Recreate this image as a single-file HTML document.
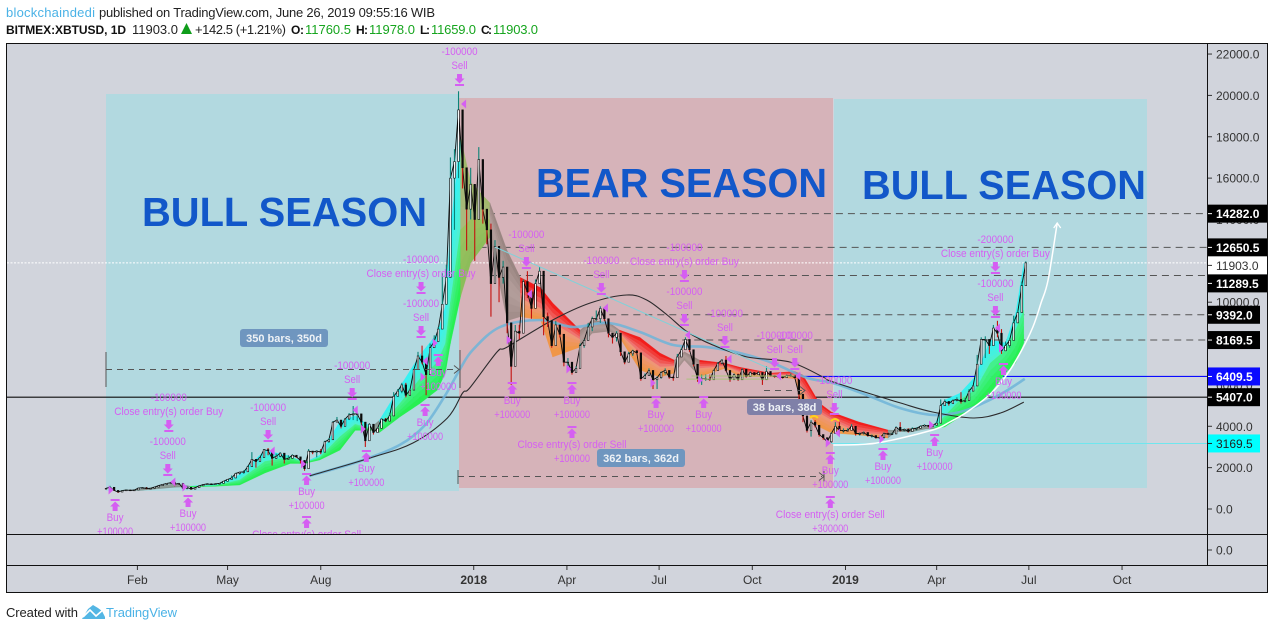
<!DOCTYPE html>
<html lang="en">
<head>
<meta charset="utf-8">
<title>BITMEX:XBTUSD 1D chart</title>
<style>
html,body{margin:0;padding:0;background:#fff;width:1274px;height:630px;overflow:hidden}
svg{display:block;font-family:"Liberation Sans",sans-serif}
</style>
</head>
<body>
<svg id="chart" xmlns="http://www.w3.org/2000/svg" width="1274" height="630" viewBox="0 0 1274 630">
  <defs>
    <clipPath id="pane-clip"><rect x="7" y="44" width="1200" height="490"/></clipPath>
  </defs>
  <rect x="0" y="0" width="1274" height="630" fill="#ffffff"/>

  <g font-size="13">
    <text x="6" y="17" fill="#4ab2e6" textLength="89">blockchaindedi</text>
    <text x="99" y="17" fill="#222" textLength="336">published on TradingView.com, June 26, 2019 09:55:16 WIB</text>
    <text x="6" y="34" fill="#111" font-size="12" font-weight="bold" textLength="120">BITMEX:XBTUSD, 1D</text>
    <text x="132" y="34" fill="#222" textLength="46">11903.0</text>
    <polygon points="181,34 192,34 186.5,23" fill="#0f9d1a"/>
    <text x="195" y="34" fill="#222" textLength="91">+142.5 (+1.21%)</text>
    <text x="291" y="34" fill="#111" font-size="12" font-weight="bold" textLength="13">O:</text>
    <text x="305" y="34" fill="#16a51e" textLength="46">11760.5</text>
    <text x="356" y="34" fill="#111" font-size="12" font-weight="bold" textLength="12">H:</text>
    <text x="369" y="34" fill="#16a51e" textLength="46">11978.0</text>
    <text x="420" y="34" fill="#111" font-size="12" font-weight="bold" textLength="10">L:</text>
    <text x="431" y="34" fill="#16a51e" textLength="45">11659.0</text>
    <text x="481" y="34" fill="#111" font-size="12" font-weight="bold" textLength="11">C:</text>
    <text x="493" y="34" fill="#16a51e" textLength="45">11903.0</text>
  </g>

  <rect x="6.5" y="43.5" width="1261" height="549" fill="#d1d4dc"/>

  <g>
    <rect x="106" y="94" width="353" height="397" fill="#b2d9e0"/>
    <rect x="459" y="98" width="374" height="390" fill="#d6b3b9"/>
    <rect x="834" y="99" width="313" height="389" fill="#b2d9e0"/>
    <text x="142" y="226" font-size="41" font-weight="bold" fill="#1257c9" textLength="285" lengthAdjust="spacingAndGlyphs">BULL SEASON</text>
    <text x="536" y="197" font-size="41" font-weight="bold" fill="#1257c9" textLength="291" lengthAdjust="spacingAndGlyphs">BEAR SEASON</text>
    <text x="862" y="199" font-size="41" font-weight="bold" fill="#1257c9" textLength="284" lengthAdjust="spacingAndGlyphs">BULL SEASON</text>
  </g>

  <g id="levels" clip-path="url(#pane-clip)"></g>
  <g id="ribbon" clip-path="url(#pane-clip)"></g>
  <g id="averages" clip-path="url(#pane-clip)"></g>
  <g id="candles" clip-path="url(#pane-clip)"></g>
  <g id="drawings" clip-path="url(#pane-clip)"></g>
  <g id="signals" clip-path="url(#pane-clip)"></g>

  <g id="price-axis"></g>
  <g id="time-axis"></g>

  <g fill="none" stroke="#111" stroke-width="1" shape-rendering="crispEdges">
    <rect x="6.5" y="43.5" width="1261" height="549"/>
    <line x1="1207.5" y1="43" x2="1207.5" y2="565"/>
    <line x1="6" y1="534.5" x2="1268" y2="534.5"/>
    <line x1="6" y1="565.5" x2="1268" y2="565.5"/>
  </g>

  <g>
    <text x="6" y="617" font-size="13" fill="#222" textLength="72">Created with</text>
    <g>
      <polygon points="82,619 88,609 93,605 98,608 102,611 105,617 105,619" fill="#53b6e4"/>
      <polyline points="83,617 90,610 96,616 104,609" fill="none" stroke="#ffffff" stroke-width="1.6"/>
    </g>
    <text x="106" y="617" font-size="13" fill="#4ab2e6" textLength="71">TradingView</text>
  </g>
</svg>

<script>
/* ---------- price candles: one sample every 4 days from 1 Jan 2017 ---------- */
const candleStepDays = 4;
const candleClose = [1000,1050,900,820,890,920,900,920,1010,1030,990,1000,1060,1130,1190,1240,1270,1200,1240,1000,1050,960,1030,1120,1180,1220,1180,1220,1240,1340,1430,1500,1720,1780,1800,2050,2400,2300,2490,2870,2820,2450,2550,2700,2400,2450,2600,2520,2350,1950,2800,2750,2800,2750,3250,3350,4200,4300,4000,4350,4550,4600,4600,4200,3300,4100,3700,3900,4350,4250,4500,5450,5700,6000,5500,5750,6750,7400,7100,6500,7800,8100,8700,9900,11200,16000,16800,19300,16500,14500,15700,14000,16900,14500,13500,10900,12700,11200,11700,9000,6900,8600,8500,11000,10500,9700,10900,11500,9300,9100,7900,8900,8450,7100,7100,6600,6800,7900,8150,8800,9200,9200,9700,9200,8500,8300,8500,7600,7100,7500,7650,7550,6300,6450,6700,6250,6350,6600,6700,6380,6350,7350,7700,8200,7700,7000,6300,6300,6300,6250,6700,7050,7200,6700,6250,6500,6250,6750,6400,6600,6500,6600,6250,6650,6450,6400,6400,6350,6450,6450,6350,5550,4500,3800,4200,4050,3600,3450,3250,3650,4000,3800,3800,3800,4000,3650,3650,3700,3550,3550,3450,3450,3650,3620,3630,3950,3800,3850,3750,3880,3900,4000,4050,4000,4050,4150,5000,5200,5100,5250,5300,5200,5250,5700,5950,7000,8200,8200,7900,8750,8500,7650,7900,8150,9000,9500,10800,11903];
const candleHigh = [1010,1120,960,850,910,940,930,930,1020,1050,1060,1020,1070,1140,1200,1250,1290,1330,1260,1190,1120,1020,1050,1150,1200,1240,1230,1240,1250,1350,1440,1620,1750,1800,1870,2100,2750,2300,2500,2900,2950,2800,2680,2750,2500,2600,2650,2560,2380,2200,2900,2770,2840,2900,3300,3420,4250,4450,4300,4400,4640,4980,4650,4350,3900,4150,3950,3950,4370,4400,4650,5650,5800,6100,6100,5800,6800,7600,7900,6800,8000,8400,8800,11400,11800,17000,17400,20200,19000,15800,16500,15000,17500,16800,14500,13800,13000,11800,12000,10200,8400,8900,8900,11100,11500,10000,11100,11700,9500,9500,8800,9100,8700,8000,7300,6900,6900,8000,8200,9000,9300,9600,9800,9400,8700,8500,8600,7800,7400,7600,7700,7700,6700,6550,6800,6300,6400,6650,6800,6450,6400,7500,7800,8300,8200,7500,6800,6500,6500,6500,6750,7100,7250,7400,6450,6550,6550,6800,6650,6650,6600,6650,6600,6900,6500,6450,6450,6400,6500,6550,6400,5800,5200,4500,4300,4300,3900,3550,3400,3700,4200,4200,3900,3900,4100,3700,3700,3750,3600,3600,3500,3500,3700,3700,3680,4000,4200,3900,3900,3950,3950,4050,4100,4050,4100,4200,5300,5300,5200,5300,5400,5650,5350,5800,6000,7450,8300,8350,8000,8900,9100,8700,8100,8250,9350,9600,11000,11978];
const candleLow = [960,900,880,780,820,880,880,900,960,1000,960,980,1030,1080,1130,1180,1230,1100,1200,960,950,930,1000,1080,1150,1190,1170,1190,1210,1270,1340,1470,1590,1660,1700,1900,2200,2000,2350,2580,2600,2100,2430,2500,2200,2400,2500,2480,2200,1850,2250,2650,2500,2650,2800,3200,3800,4250,3900,4150,4300,4300,4250,4100,3000,3600,3600,3700,4150,4200,4300,4800,5500,5600,5400,5600,6400,7200,7000,5500,7400,7900,8100,9000,10500,13500,13500,16000,15500,12500,14000,12000,15000,13800,12800,9300,11000,10000,10900,8500,6000,7600,8200,9900,10200,9200,10300,11300,8400,8800,7800,8700,8300,6900,6800,6500,6700,7700,7800,8700,8600,9100,9000,9100,8300,8000,8100,7400,7000,7300,7400,7500,6200,6400,6600,5800,5800,6300,6500,6300,6200,7200,7400,7800,7600,6900,6150,6000,6200,6200,6400,6900,7000,6650,6150,6300,6200,6500,6350,6500,6450,6550,6000,6250,6400,6350,6350,6300,6350,6400,6300,5300,4200,3700,3500,3950,3500,3350,3150,3200,3800,3600,3700,3750,3950,3550,3550,3600,3500,3450,3400,3400,3400,3580,3600,3800,3750,3750,3700,3850,3800,3950,4000,3950,4000,4050,4900,5100,5000,5150,5200,5100,5150,5400,5750,6200,7700,7300,7500,8600,8300,7500,7800,7800,8800,9200,10500,10800];

/* ---------- EMA ribbon envelope ---------- */
const ribbonDays = [24,34,68,83,108,132,157,182,196,211,231,246,262,270,290,310,327,335,340,350,360,379,396,409,429,441,468,480,497,507,527,547,561,571,586,611,626,656,680,688,704,716,743,772,780,794,809,818,828,843,858,873,888,898,906];
const ribbonTop = [900,950,1230,1100,1180,1650,2850,2550,2250,2600,4250,4500,3950,4300,5900,7450,8500,9800,13500,18000,15800,14800,12500,11200,10700,9960,8650,9140,9000,8650,8300,7540,7200,7600,7200,7050,6850,6570,6650,6480,5130,4690,4210,3820,3800,3900,3970,4050,5270,5600,6400,8170,8030,9480,11900];
const ribbonMid = [900,930,1150,1090,1130,1400,2300,2500,2230,2500,3500,4100,3880,4000,5100,6300,7100,8000,10000,13500,14000,14000,10800,10200,9700,9000,8200,8800,8800,8500,7540,6870,6900,7400,6800,6900,6600,6480,6450,5700,4640,4300,3680,3600,3775,3800,3920,3950,4500,5270,5750,7060,7690,8650,9620];
const ribbonBottom = [900,900,1050,1080,1100,1160,1740,2200,2200,2370,2850,3800,3800,3700,4450,5100,5750,6570,8000,10250,11900,13150,9100,9300,9150,7350,7830,8500,8600,8300,6720,6380,6570,7200,6400,6800,6400,6400,6300,4930,3970,3680,3580,3430,3750,3720,3870,3880,3970,4450,4930,5600,6570,7060,8030];
const ribbonPhase = ["flat","flat","flat","bull","bull","bull","bull","bull","bull","bull","bull","bull","flat","bull","bull","bull","bull","bull","bull","olive","olive","brown","brown","bear","bear","bear","brown","brown","brown","bear","bear","bear","brown","brown","bear","bear","bear","bear","bear","bear","bear","bear","bear","flat","flat","flat","flat","bull","bull","bull","bull","bull","bull","bull"];

/* ---------- moving averages ---------- */
const fastMaDays = [201,251,290,315,335,349,362,389,428,461,495,527,560,593,626,658,692,718,751,784,816,843,868,887,907];
const fastMaValues = [1600,2320,3100,4060,5510,6720,7690,8800,9140,8800,9000,8560,7930,7830,7540,7060,6340,6090,5510,4880,4550,4690,5170,5660,6290];
const slowMaDays = [201,261,303,337,352,359,386,396,441,478,514,534,554,574,599,633,675,708,718,784,816,856,883,906];
const slowMaValues = [1600,2470,3190,4400,5610,5850,7590,7830,9140,9960,10350,10100,9380,8560,7930,7350,7110,6380,6140,5130,4690,4400,4640,5170];

/* ---------- price levels ---------- */
const dashedLevelPrices = [14282,12650.5,11289.5,9392,8169.5];
const dashedLevelStartDays = [377,357,379,485,557];
const blueLevelPrice = 6409.5;
const blueLevelStartDay = 683;
const blackLevelPrice = 5407;
const cyanLevelPrice = 3169.5;
const cyanLevelStartDay = 716;
const lastPriceLevel = 11903;

/* ---------- drawings ---------- */
const trendDays = [384,658];
const trendPrices = [12670,6720];
const arrowCurveDays = [718,744,767,816,833,850,873,889,903,915,923,930,939];
const arrowCurvePrices = [3095,3120,3240,3820,4207,4690,5560,6480,7590,8800,9960,11075,13830];
const olivePrices = [6430,6280];
const oliveStartDays = [578,573];
const oliveEndDays = [680,655];

/* ---------- strategy signals ---------- */
const signalDays = [9,81,198,257,315,328,401,460,543,590,715,767,818,886, 198,460,715, 61,160,243,311,349,415,489,571,611,660,680,719,878, 62,311,571,878];
const signalPrices = [484,677,1741,2853,5078,7496,6142,6142,5465,5465,2757,2950,3627,7061, -338,4014,629, 1596,3240,5271,8270,20456,11606,10349,8850,7786,6722,6722,4546,9237, 3724,10397,10978,11365];
const signalKinds = ["buy","buy","buy","buy","buy","buy","buy","buy","buy","buy","buy","buy","buy","buy","closeSell","closeSell","closeSell","sell","sell","sell","sell","sell","sell","sell","sell","sell","sell","sell","sell","sell","closeBuy","closeBuy","closeBuy","closeBuy"];
const signalAmounts = ["+100000","+100000","+100000","+100000","+100000","+100000","+100000","+100000","+100000","+100000","+100000","+100000","+100000","+100000","+100000","+100000","+300000","-100000","-100000","-100000","-100000","-100000","-100000","-100000","-100000","-100000","-100000","-100000","-100000","-100000","-100000","-100000","-100000","-200000"];
const entryMarkerDays = [5,78,195,254,313,325,398,457,540,587,713,766,815,884];
const entryMarkerPrices = [919,1064,2176,3869,6384,8028,8173,6770,6093,6238,3192,3385,4062,7786];
const exitMarkerDays = [66,164,246,315,353,418,493,574,615,664,683,722,880];
const exitMarkerPrices = [1306,2805,4788,7157,19586,10397,9720,8415,7254,6432,6432,3675,8753];

/* ---------- axes ---------- */
const priceTicks = [22000,20000,18000,16000,14000,12000,10000,8000,6000,4000,2000,0];
const priceTickLabels = ["22000.0","20000.0","18000.0","16000.0","14000.0","12000.0","10000.0","8000.0","6000.0","4000.0","2000.0","0.0"];
const lowerPaneTickLabel = "0.0";
const timeTickDays = [31,120,212,363,455,546,638,730,820,911,1003];
const timeTickLabels = ["Feb","May","Aug","2018","Apr","Jul","Oct","2019","Apr","Jul","Oct"];
const priceTagValues = [14282,12650.5,11903,11289.5,9392,8169.5,6409.5,5407,3169.5];
const priceTagLabels = ["14282.0","12650.5","11903.0","11289.5","9392.0","8169.5","6409.5","5407.0","3169.5"];
const priceTagStyles = ["black","black","white","black","blackShort","blackShort","blue","blackShort","cyan"];

function xScale(day){ return 106 + 1.013 * day; }
function yScale(price){ return 509 - 0.02068 * price; }

const NS = "http://www.w3.org/2000/svg";
function mk(parent, tag, attrs, text){
  const e = document.createElementNS(NS, tag);
  for (const k in attrs) e.setAttribute(k, attrs[k]);
  if (text !== undefined) e.textContent = text;
  parent.appendChild(e);
  return e;
}
function pointsOf(days, values){
  return days.map((d,i)=> xScale(d).toFixed(1)+","+yScale(values[i]).toFixed(1)).join(" ");
}
/* Catmull-Rom smoothing so curved indicators are not angular */
function smoothPath(days, values){
  const p = days.map((d,i)=>[xScale(d),yScale(values[i])]);
  let s = "M"+p[0][0].toFixed(1)+" "+p[0][1].toFixed(1);
  for (let i=0;i<p.length-1;i++){
    const a=p[Math.max(0,i-1)], b=p[i], c=p[i+1], d=p[Math.min(p.length-1,i+2)];
    const c1=[b[0]+(c[0]-a[0])/6,b[1]+(c[1]-a[1])/6];
    const c2=[c[0]-(d[0]-b[0])/6,c[1]-(d[1]-b[1])/6];
    s+="C"+c1[0].toFixed(1)+" "+c1[1].toFixed(1)+" "+c2[0].toFixed(1)+" "+c2[1].toFixed(1)+" "+c[0].toFixed(1)+" "+c[1].toFixed(1);
  }
  return s;
}

/* levels */
const levelsG = document.getElementById("levels");
dashedLevelPrices.forEach((p,i)=>{
  const y = yScale(p);
  const el = mk(levelsG,"line",{x1:xScale(dashedLevelStartDays[i]),y1:y,x2:1207,y2:y,stroke:"#555","stroke-width":1,"stroke-dasharray":"7 5"});
  
  
});
{
  let el = mk(levelsG,"line",{x1:7,y1:yScale(lastPriceLevel),x2:1207,y2:yScale(lastPriceLevel),stroke:"#fff","stroke-width":1,"stroke-dasharray":"2 1.5"});
  
  
  el = mk(levelsG,"line",{x1:xScale(blueLevelStartDay),y1:yScale(blueLevelPrice),x2:1207,y2:yScale(blueLevelPrice),stroke:"#0a0aff","stroke-width":1.2});
  
  
  el = mk(levelsG,"line",{x1:7,y1:yScale(blackLevelPrice),x2:1207,y2:yScale(blackLevelPrice),stroke:"#0c0c0c","stroke-width":1.2});
  
  
  el = mk(levelsG,"line",{x1:xScale(cyanLevelStartDay),y1:yScale(cyanLevelPrice),x2:1207,y2:yScale(cyanLevelPrice),stroke:"#6fe6ee","stroke-width":1});
  
  
}

/* ribbon: each half of the envelope is shaded with several thin sub-bands */
const ribbonG = document.getElementById("ribbon");
const shadeUpperFrom = {bull:[48,242,250],bear:[242,16,14],flat:[127,143,138],olive:[160,184,104],brown:[150,130,126]};
const shadeUpperTo = {bull:[80,240,205],bear:[238,130,126],flat:[147,160,154],olive:[170,184,128],brown:[181,159,156]};
const shadeLowerFrom = {bull:[72,240,150],bear:[238,150,125],flat:[147,160,154],olive:[156,192,96],brown:[181,159,156]};
const shadeLowerTo = {bull:[34,240,72],bear:[240,150,64],flat:[127,143,138],olive:[138,188,88],brown:[160,140,136]};
const SUB_BANDS = 4;
function mixColor(a,b,t){
  return "rgb("+a.map((v,i)=>Math.round(v+(b[i]-v)*t)).join(",")+")";
}
for (let i=0;i<ribbonPhase.length;i++){
  const x0=xScale(ribbonDays[i]), x1=xScale(ribbonDays[i+1]);
  const ph=ribbonPhase[i];
  const halves=[
    [ribbonTop,ribbonMid,shadeUpperFrom[ph],shadeUpperTo[ph],'ribbon-upper-band'],
    [ribbonMid,ribbonBottom,shadeLowerFrom[ph],shadeLowerTo[ph],'ribbon-lower-band']
  ];
  halves.forEach(h=>{
    const ya0=yScale(h[0][i]), ya1=yScale(h[0][i+1]), yb0=yScale(h[1][i]), yb1=yScale(h[1][i+1]);
    for (let k=0;k<SUB_BANDS;k++){
      const t0=k/SUB_BANDS, t1=(k+1)/SUB_BANDS;
      const pts=[x0,ya0+(yb0-ya0)*t0,x1,ya1+(yb1-ya1)*t0,x1,ya1+(yb1-ya1)*t1,x0,ya0+(yb0-ya0)*t1].map(n=>n.toFixed(1));
      const col=mixColor(h[2],h[3],(k+0.5)/SUB_BANDS);
      const band = mk(ribbonG,"polygon",{points:pts.join(" "),fill:col,stroke:col,"stroke-width":0.3});
      
      
    }
  });
}

/* moving averages */
const avgG = document.getElementById("averages");
{
  const fast = mk(avgG,"path",{d:smoothPath(fastMaDays,fastMaValues),fill:"none",stroke:"#6eb4d8","stroke-width":2.6,"stroke-opacity":0.85,"stroke-linejoin":"round"});
  
  
  const slow = mk(avgG,"path",{d:smoothPath(slowMaDays,slowMaValues),fill:"none",stroke:"#2c2a2c","stroke-width":1.1,"stroke-linejoin":"round"});
  
  
}

/* candles */
const candleG = document.getElementById("candles");
{
  const closeDays = candleClose.map((_,i)=>i*candleStepDays);
  const path = mk(candleG,"polyline",{points:pointsOf(closeDays,candleClose),fill:"none",stroke:"#0a0a0a","stroke-width":0.9});
  
  
}
candleClose.forEach((c,i)=>{
  const o = i>0 ? candleClose[i-1] : c;
  const x = xScale(i*candleStepDays);
  const up = c>=o;
  const wick = mk(candleG,"line",{x1:x,x2:x,y1:yScale(candleHigh[i]),y2:yScale(candleLow[i]),stroke:up?"#0b8478":"#c4120f","stroke-width":1.1});
  
  
  const yTop = yScale(Math.max(o,c));
  const yBot = yScale(Math.min(o,c));
  const body = mk(candleG,"rect",{x:x-0.8,y:yTop,width:1.6,height:Math.max(0.8,yBot-yTop),fill:up?"#ffffff":"#0a0a0a",stroke:"#0a0a0a","stroke-width":0.6});
  
  
});

/* drawings */
const drawG = document.getElementById("drawings");
{
  let el = mk(drawG,"polyline",{points:pointsOf(trendDays,trendPrices),fill:"none",stroke:"#7ed2da","stroke-width":1});
  
  
  oliveStartDays.forEach((d,i)=>{
    const o = mk(drawG,"line",{x1:xScale(d),x2:xScale(oliveEndDays[i]),y1:yScale(olivePrices[i]),y2:yScale(olivePrices[i]),stroke:"#a9c37a","stroke-width":1.2,"stroke-opacity":0.8});
    
    
  });
  el = mk(drawG,"path",{d:smoothPath(arrowCurveDays,arrowCurvePrices),fill:"none",stroke:"#ffffff","stroke-width":1.5,"stroke-linejoin":"round"});
  
  
  const lastIdx = arrowCurveDays.length-1;
  const ax = xScale(arrowCurveDays[lastIdx]), ay = yScale(arrowCurvePrices[lastIdx]);
  el = mk(drawG,"polyline",{points:(ax-3.5)+","+(ay+5)+" "+ax+","+ay+" "+(ax+3.5)+","+(ay+5),fill:"none",stroke:"#ffffff","stroke-width":1.3});
  
  
  ["M810 418q4-4 8 0","M831 421q4-4 8 0"].forEach(d=>{
    const a = mk(drawG,"path",{d:d,fill:"none",stroke:"#ffd21a","stroke-width":2});
    
    
  });
  /* measure tools */
  const dash = {stroke:"#555","stroke-width":1,"stroke-dasharray":"6 5"};
  const solid = {stroke:"#555","stroke-width":1};
  const segs = [
    ["measure-350-line",106,369.5,456,369.5,dash],["measure-350-start",106,352,106,387,solid],["measure-350-end",460,350,460,388,solid],
    ["measure-362-line",458,476.5,822,476.5,dash],["measure-362-start",458,470,458,484,solid],["measure-362-end",824,471,824,482,solid],
    ["measure-38-line",764,390.5,802,390.5,dash]
  ];
  segs.forEach(s=>{
    const l = mk(drawG,"line",Object.assign({x1:s[1],y1:s[2],x2:s[3],y2:s[4]},s[5]));
    
    
  });
  [[459,369.5],[824,476.5],[805,390.5]].forEach(p=>{
    const h = mk(drawG,"polyline",{points:(p[0]-5)+","+(p[1]-4)+" "+p[0]+","+p[1]+" "+(p[0]-5)+","+(p[1]+4),fill:"none",stroke:"#555","stroke-width":1});
    
    
  });
  [["350 bars, 350d",240,329,88,18,"#6f96bf"],["362 bars, 362d",597,449,88,18,"#6f96bf"],["38 bars, 38d",747,399,75,16,"#7f80a8"]].forEach(b=>{
    const r = mk(drawG,"rect",{x:b[1],y:b[2],width:b[3],height:b[4],rx:3,fill:b[5]});
    
    
    const t = mk(drawG,"text",{x:b[1]+b[3]/2,y:b[2]+b[4]/2+4,"text-anchor":"middle","font-size":11,"font-weight":"bold",fill:"#eef2f6"},b[0]);
    
    
  });
}

/* signals */
const sigG = document.getElementById("signals");
const MAGENTA = "#d55ff2";
const labelWidths = {"Buy":17,"Sell":16,"Close entry(s) order Buy":109,"Close entry(s) order Sell":109};
function sigText(x,y,str){
  const w = labelWidths[str] || 36;
  const t = mk(sigG,"text",{x:x,y:y+4,"text-anchor":"middle","font-size":11,fill:MAGENTA,textLength:w,lengthAdjust:"spacingAndGlyphs"},str);
  
  
}
function upArrow(x,y){
  return "M"+(x-4.5)+" "+y+"h9v2h-9zM"+x+" "+(y+2.5)+"l5 5h-2.5v4.5h-5v-4.5h-2.5z";
}
function downArrow(x,yb){
  return "M"+(x-4.5)+" "+(yb-2)+"h9v2h-9zM"+x+" "+(yb-2.5)+"l5 -5h-2.5v-4.5h-5v4.5h-2.5z";
}
signalDays.forEach((d,i)=>{
  const x = xScale(d), y = yScale(signalPrices[i]), kind = signalKinds[i], amt = signalAmounts[i];
  const isUp = kind==="buy" || kind==="closeSell";
  const arrow = mk(sigG,"path",{d:isUp?upArrow(x,y):downArrow(x,y),fill:MAGENTA});
  
  
  if (isUp){
    sigText(x,y+18, kind==="buy"?"Buy":"Close entry(s) order Sell");
    sigText(x,y+32, amt);
  } else {
    sigText(x,y-21, kind==="sell"?"Sell":"Close entry(s) order Buy");
    sigText(x,y-35, amt);
  }
});
entryMarkerDays.forEach((d,i)=>{
  const x=xScale(d), y=yScale(entryMarkerPrices[i]);
  const m = mk(sigG,"polygon",{points:(x-2.5)+","+(y-4.5)+" "+(x+2.5)+","+y+" "+(x-2.5)+","+(y+4.5),fill:MAGENTA});
  
  
});
exitMarkerDays.forEach((d,i)=>{
  const x=xScale(d), y=yScale(exitMarkerPrices[i]);
  const m = mk(sigG,"polygon",{points:(x+2.5)+","+(y-4.5)+" "+(x-2.5)+","+y+" "+(x+2.5)+","+(y+4.5),fill:MAGENTA});
  
  
});

/* price axis */
const paxis = document.getElementById("price-axis");
function priceTick(y,label){
  const tk = mk(paxis,"line",{x1:1207,x2:1212,y1:y,y2:y,stroke:"#333","stroke-width":1});
  
  
  const tx = mk(paxis,"text",{x:1216,y:y+4.5,"font-size":12,fill:"#333"},label);
  
  
}
priceTicks.forEach((p,i)=> priceTick(yScale(p),priceTickLabels[i]));
priceTick(550,lowerPaneTickLabel);
const tagLook = {
  black:{fill:"#000",text:"#fff",w:61,bold:true},
  blackShort:{fill:"#000",text:"#fff",w:53,bold:true},
  white:{fill:"#fff",text:"#333",w:61,bold:false},
  blue:{fill:"#0a0aff",text:"#fff",w:53,bold:true},
  cyan:{fill:"#00ffff",text:"#222",w:53,bold:false}
};
/* the axis pushes colliding tags apart: minimum spacing between neighbouring tags */
const TAG_HEIGHT = 18;
let previousTagBottom = -Infinity;
priceTagValues.forEach((p,i)=>{
  const y=Math.max(yScale(p), previousTagBottom+TAG_HEIGHT/2), look=tagLook[priceTagStyles[i]];
  previousTagBottom = y+TAG_HEIGHT/2;
  const r = mk(paxis,"rect",{x:1207,y:y-TAG_HEIGHT/2,width:look.w,height:TAG_HEIGHT,fill:look.fill});
  
  
  const t = mk(paxis,"text",{x:1216,y:y+4.5,"font-size":12,fill:look.text,"font-weight":look.bold?"bold":"normal"},priceTagLabels[i]);
  
  
  const k = mk(paxis,"line",{x1:1207,x2:1212,y1:y,y2:y,stroke:look.text,"stroke-width":1});
  
  
});

/* time axis */
const taxis = document.getElementById("time-axis");
timeTickDays.forEach((d,i)=>{
  const x=xScale(d), isYear=/^\d/.test(timeTickLabels[i]);
  const tk = mk(taxis,"line",{x1:x,x2:x,y1:565,y2:570,stroke:"#333","stroke-width":1});
  
  
  const tx = mk(taxis,"text",{x:x,y:584,"text-anchor":"middle","font-size":12,fill:"#333","font-weight":isYear?"bold":"normal"},timeTickLabels[i]);
  
  
});
</script>
</body>
</html>
